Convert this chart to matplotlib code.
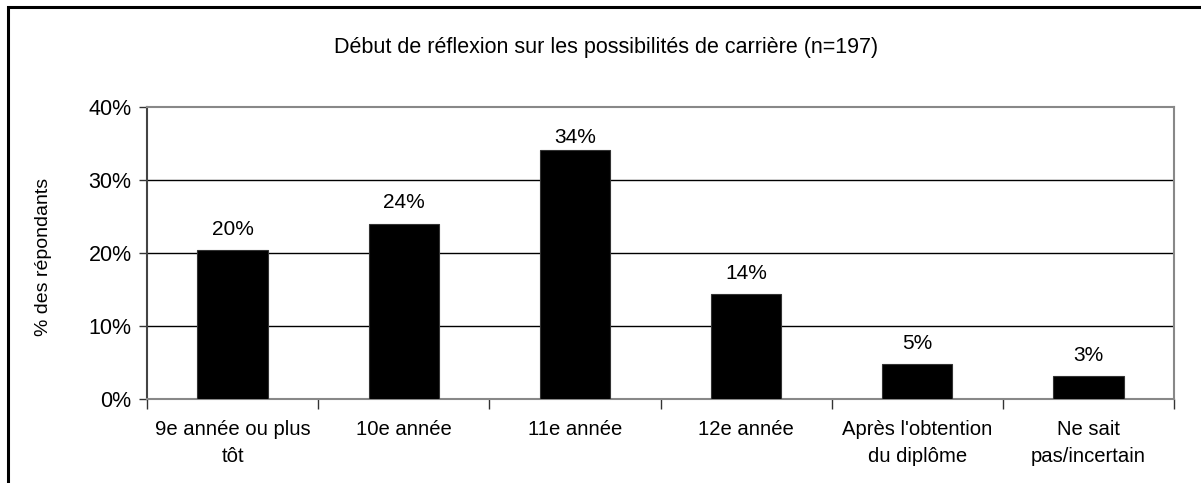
import matplotlib
matplotlib.use("Agg")
import matplotlib.pyplot as plt
from matplotlib.patches import Rectangle
from matplotlib.ticker import FixedLocator, NullFormatter

categories = ["9e année ou plus\ntôt", "10e année", "11e année", "12e année",
              "Après l'obtention\ndu diplôme", "Ne sait\npas/incertain"]
values = [20.4, 24.0, 34.1, 14.4, 4.8, 3.1]
labels = ["20%", "24%", "34%", "14%", "5%", "3%"]
yticks = [0, 10, 20, 30, 40]
title = "Début de réflexion sur les possibilités de carrière (n=197)"
ylabel = "% des répondants"

plt.rcParams['font.family'] = ['Liberation Sans', 'DejaVu Sans']

W, H = 1201, 483
fig = plt.figure(figsize=(W / 100, H / 100), dpi=100)
fig.patch.set_facecolor("white")

# outer frame (extends past right/bottom edges)
fig.patches.append(Rectangle((7.5 / W, -0.1), 1.2, 1 - 7.5 / H + 0.1,
                             transform=fig.transFigure, fill=False,
                             edgecolor="black", linewidth=2.2, zorder=0))

left, right, top, bottom = 147, 1174, 107, 399
ax = fig.add_axes([left / W, 1 - bottom / H, (right - left) / W, (bottom - top) / H])

x = list(range(len(categories)))
ax.bar(x, values, width=0.41, color="black", edgecolor="#333333", linewidth=0.8, zorder=3)
for xi, v, lab in zip(x, values, labels):
    ax.text(xi, min(v + 2.1, 35.1), lab, ha="center", va="baseline", fontsize=15)

ax.set_xlim(-0.5, len(categories) - 0.5)
ax.set_ylim(0, 40)
ax.set_yticks(yticks)
ax.set_yticklabels([f"{t}%" for t in yticks], fontsize=15.5)
for t in yticks[1:-1]:
    ax.axhline(t, color="black", linewidth=1.0, zorder=1)

ax.xaxis.set_major_locator(FixedLocator([i - 0.5 for i in range(len(categories) + 1)]))
ax.xaxis.set_major_formatter(NullFormatter())
ax.xaxis.set_minor_locator(FixedLocator(x))
ax.set_xticklabels(categories, minor=True, fontsize=14.6, linespacing=1.55)
ax.tick_params(axis="x", which="minor", length=0, pad=15)
ax.tick_params(axis="x", which="major", length=7, width=1, color="#333333")
ax.tick_params(axis="y", length=6, width=1, color="#333333", pad=5)

for side in ["top", "right"]:
    ax.spines[side].set_color("#888888")
    ax.spines[side].set_linewidth(1.5)
ax.spines["left"].set_color("#444444")
ax.spines["left"].set_linewidth(1.5)
ax.spines["bottom"].set_color("#888888")
ax.spines["bottom"].set_linewidth(1.5)

ax.set_ylabel(ylabel, fontsize=14)
ax.yaxis.label.set_va("center")
ax.yaxis.set_label_coords(44 / W, 1 - 257 / H, transform=fig.transFigure)
fig.text(606 / W, 1 - 48 / H, title, ha="center", va="center", fontsize=15.5)

fig.savefig("out.png", dpi=100, facecolor="white")
